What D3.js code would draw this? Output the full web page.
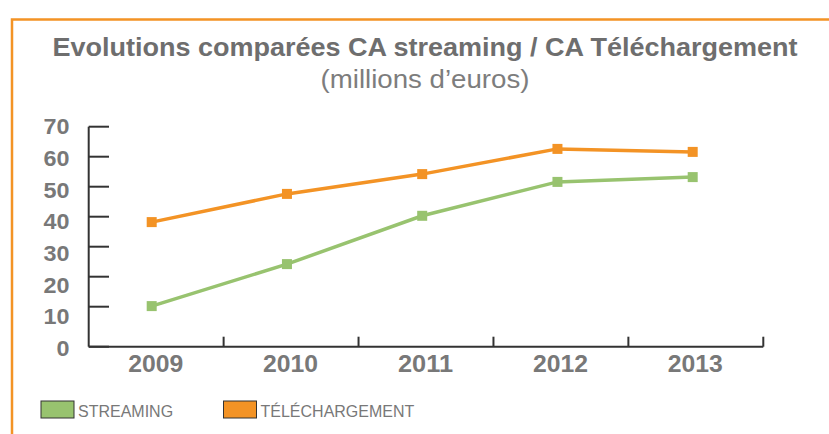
<!DOCTYPE html>
<html>
<head>
<meta charset="utf-8">
<script src="https://cdn.jsdelivr.net/npm/d3@7"></script>
<style>
  body { margin: 0; background: #fff; }
  svg { display: block; }
</style>
</head>
<body>
<div id="chart"></div>
<script>
// data
var years = ["2009", "2010", "2011", "2012", "2013"];
var streaming = [10.2, 24.2, 40.3, 51.6, 53.2];
var telechargement = [38.2, 47.6, 54.2, 62.6, 61.6];
var yTicks = [0, 10, 20, 30, 40, 50, 60, 70];
var seriesNames = ["STREAMING", "TÉLÉCHARGEMENT"];
var seriesColors = ["#98c36f", "#f39325"];

var width = 829, height = 434;
var grey = "#787878";

var svg = d3.select("#chart").append("svg")
    .attr("width", width)
    .attr("height", height);

// orange frame (top + left only)
svg.append("path")
    .attr("d", "M12,434 L12,19.5 L829,19.5")
    .attr("fill", "none")
    .attr("stroke", "#f39325")
    .attr("stroke-width", 2.5);

// titles
svg.append("text")
    .attr("x", 425).attr("y", 56)
    .attr("text-anchor", "middle")
    .attr("font-family", "'Liberation Sans', Arial, sans-serif")
    .attr("font-weight", "bold")
    .attr("font-size", "25px")
    .attr("fill", "#6e6e6e")
    .attr("textLength", 745)
    .attr("lengthAdjust", "spacingAndGlyphs")
    .text("Evolutions comparées CA streaming / CA Téléchargement");

svg.append("text")
    .attr("x", 425).attr("y", 88)
    .attr("text-anchor", "middle")
    .attr("font-family", "'Liberation Sans', Arial, sans-serif")
    .attr("font-size", "25px")
    .attr("fill", "#7d7d7d")
    .attr("textLength", 209)
    .attr("lengthAdjust", "spacingAndGlyphs")
    .text("(millions d’euros)");

// scales
var axisX0 = 88.7, axisX1 = 763.3, axisY = 346.7;
var xBand = d3.scaleBand().domain(years).range([axisX0, axisX1]);
var xPoint = d3.scalePoint().domain(years).range([151.7, 692.7]);
var y = d3.scaleLinear().domain([0, 70]).range([336.7, 126.7]);      // data + tick lines
var yLabel = d3.scaleLinear().domain([0, 70]).range([348, 126.5]);   // tick labels sit a bit lower

// y axis line + ticks pointing inward
svg.append("line")
    .attr("x1", axisX0).attr("x2", axisX0)
    .attr("y1", y(70)).attr("y2", axisY)
    .attr("stroke", "#333").attr("stroke-width", 2);

svg.selectAll(".ytick")
    .data(yTicks)
    .enter().append("line")
    .attr("class", "ytick")
    .attr("x1", axisX0).attr("x2", 109)
    .attr("y1", function(d) { return d == 0 ? axisY : y(d); })
    .attr("y2", function(d) { return d == 0 ? axisY : y(d); })
    .attr("stroke", "#333").attr("stroke-width", 2);

svg.selectAll(".ylab")
    .data(yTicks)
    .enter().append("text")
    .attr("class", "ylab")
    .attr("x", 69.5)
    .attr("y", function(d) { return yLabel(d); })
    .attr("dy", "0.36em")
    .attr("text-anchor", "end")
    .attr("font-family", "'Liberation Sans', Arial, sans-serif")
    .attr("font-weight", "bold")
    .attr("font-size", "22px")
    .attr("fill", grey)
    .attr("textLength", function(d) { return d == 0 ? 13 : 26; })
    .attr("lengthAdjust", "spacingAndGlyphs")
    .text(function(d) { return d; });

// x axis line + boundary ticks pointing up
svg.append("line")
    .attr("x1", axisX0).attr("x2", axisX1)
    .attr("y1", axisY).attr("y2", axisY)
    .attr("stroke", "#333").attr("stroke-width", 2);

svg.selectAll(".xtick")
    .data(years)
    .enter().append("line")
    .attr("class", "xtick")
    .attr("x1", function(d) { return xBand(d) + xBand.bandwidth(); })
    .attr("x2", function(d) { return xBand(d) + xBand.bandwidth(); })
    .attr("y1", axisY).attr("y2", axisY - 10)
    .attr("stroke", "#333").attr("stroke-width", 2);

svg.selectAll(".xlab")
    .data(years)
    .enter().append("text")
    .attr("class", "xlab")
    .attr("x", function(d) { return xBand(d) + xBand.bandwidth() / 2 - 0.5; })
    .attr("y", 372)
    .attr("text-anchor", "middle")
    .attr("font-family", "'Liberation Sans', Arial, sans-serif")
    .attr("font-weight", "bold")
    .attr("font-size", "23px")
    .attr("fill", grey)
    .attr("textLength", 55)
    .attr("lengthAdjust", "spacingAndGlyphs")
    .text(function(d) { return d; });

// series
var series = [streaming, telechargement];
var line = d3.line()
    .x(function(d, i) { return xPoint(years[i]); })
    .y(function(d) { return y(d); });

series.forEach(function(values, s) {
    svg.append("path")
        .datum(values)
        .attr("d", line)
        .attr("fill", "none")
        .attr("stroke", seriesColors[s])
        .attr("stroke-width", 3.5);

    svg.selectAll(".m" + s)
        .data(values)
        .enter().append("rect")
        .attr("class", "m" + s)
        .attr("x", function(d, i) { return xPoint(years[i]) - 5; })
        .attr("y", function(d) { return y(d) - 5; })
        .attr("width", 10).attr("height", 10)
        .attr("fill", seriesColors[s]);
});

// legend
var legendX = [41, 223.5];
var leg = svg.selectAll(".leg")
    .data(seriesNames)
    .enter().append("g")
    .attr("class", "leg")
    .attr("transform", function(d, i) { return "translate(" + legendX[i] + ",401)"; });

leg.append("rect")
    .attr("width", 33).attr("height", 17)
    .attr("fill", function(d, i) { return seriesColors[i]; })
    .attr("stroke", "#333").attr("stroke-width", 1);

leg.append("text")
    .attr("x", 37).attr("y", 15.5)
    .attr("font-family", "'Liberation Sans', Arial, sans-serif")
    .attr("font-size", "16px")
    .attr("fill", grey)
    .text(function(d) { return d; });
</script>
</body>
</html>
